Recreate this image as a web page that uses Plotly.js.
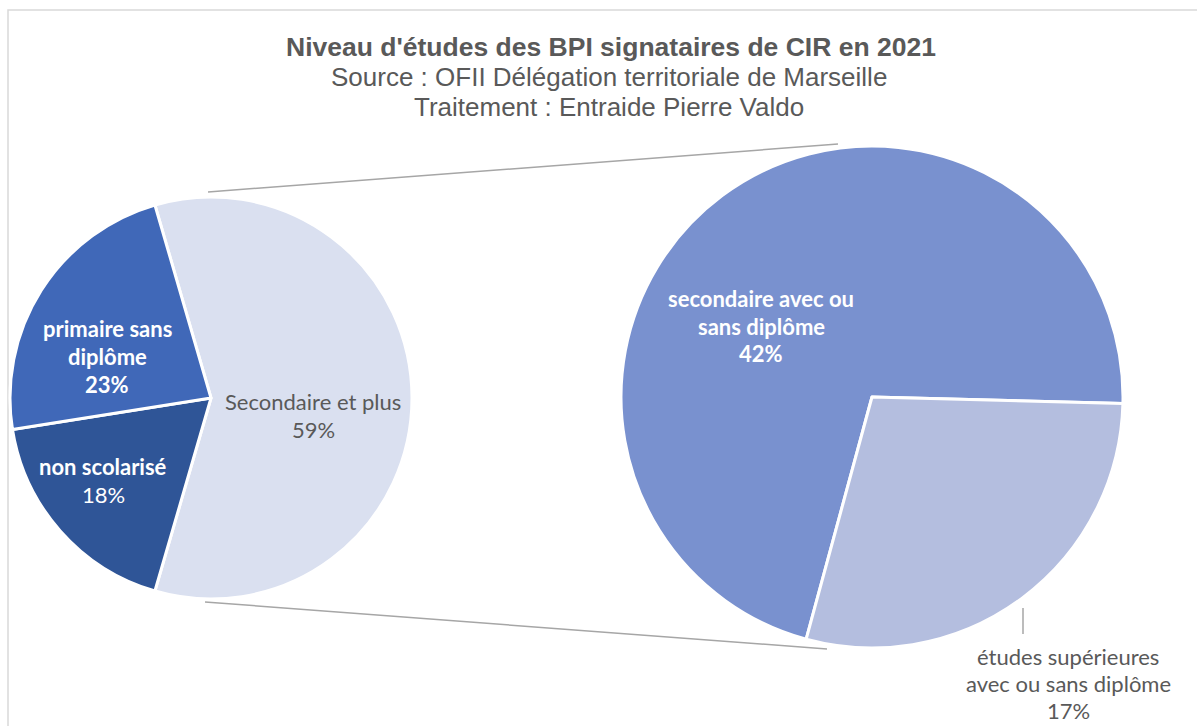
<!DOCTYPE html>
<html><head><meta charset="utf-8">
<script src="https://cdn.plot.ly/plotly-3.0.1.min.js"></script>
<style>html,body{margin:0;padding:0;background:#fff}</style>
</head><body><div id="chart" style="width:1197px;height:726px"></div>
<script>
// ---- data ----
const mainCategories = ["Secondaire et plus", "non scolarisé", "primaire sans diplôme"];
const mainValues = [59, 18, 23];
const subCategories = ["secondaire avec ou sans diplôme", "études supérieures avec ou sans diplôme"];
const subValues = [42, 17];
const mainLabelLines = [["Secondaire et plus"], ["non scolarisé"], ["primaire sans", "diplôme"]];
const subLabelLines = [["secondaire avec ou", "sans diplôme"], ["études supérieures", "avec ou sans diplôme"]];
const titleText = "Niveau d'études des BPI signataires de CIR en 2021";
const subtitleLines = ["Source : OFII Délégation territoriale de Marseille", "Traitement : Entraide Pierre Valdo"];

// ---- styling ----
const W = 1197, H = 726;
const px = x => x / W, py = y => 1 - y / H;
const mainColors = ["#DAE0F0", "#2F5597", "#4068B8"];
const subColors = ["#7991CF", "#B4BEDF"];
const labelFont = "Lato, 'Open Sans', sans-serif";
const grandTotal = mainValues.reduce((a, b) => a + b, 0);
const pct = v => Math.round(v / grandTotal * 100) + "%";

const traces = [
  {
    type: "pie", labels: mainCategories, values: mainValues, sort: false,
    direction: "clockwise", rotation: -16.2,
    marker: {colors: mainColors, line: {color: "#ffffff", width: 3}},
    textinfo: "none", hoverinfo: "label+percent",
    domain: {x: [px(10), px(412)], y: [py(600), py(196)]},
    showlegend: false
  },
  {
    type: "pie", labels: subCategories, values: subValues, sort: false,
    direction: "clockwise", rotation: 195.2,
    marker: {colors: subColors, line: {color: "#ffffff", width: 3}},
    textinfo: "none", hoverinfo: "label+value",
    domain: {x: [px(621), px(1123)], y: [py(648), py(146)]},
    showlegend: false
  }
];

// label specs: [lines, value, centerX, firstLineY, lineGap, color, boldName, boldPct]
const labelSpecs = [
  [mainLabelLines[0], mainValues[0], 313, 401, 28, "#595959", false, false],
  [mainLabelLines[1], mainValues[1], 103, 466, 28, "#ffffff", true, false],
  [mainLabelLines[2], mainValues[2], 107, 328, 28, "#ffffff", true, true],
  [subLabelLines[0], subValues[0], 761, 298, 28, "#ffffff", true, true],
  [subLabelLines[1], subValues[1], 1068, 656, 27, "#595959", false, false]
];
const annotations = [];
labelSpecs.forEach(([lines, v, cx, y0, gap, color, bName, bPct]) => {
  const all = lines.map(l => bName ? "<b>" + l + "</b>" : l);
  all.push(bPct ? "<b>" + pct(v) + "</b>" : pct(v));
  all.forEach((t, i) => {
    annotations.push({
      text: t, x: px(cx), y: py(y0 + i * gap), xref: "paper", yref: "paper",
      xanchor: "center", yanchor: "middle", showarrow: false,
      font: {family: labelFont, size: 22, color: color}
    });
  });
});
subtitleLines.forEach((t, i) => {
  annotations.push({
    text: t, x: px(609), y: py(77 + i * 30), xref: "paper", yref: "paper",
    xanchor: "center", yanchor: "middle", showarrow: false,
    font: {family: "'Liberation Sans', Arial, sans-serif", size: 26, color: "#595959"}
  });
});

const lineStyle = {color: "#A6A6A6", width: 1.5};
const shapes = [
  {type: "rect", xref: "paper", yref: "paper", x0: px(8), y0: py(10), x1: px(1205), y1: py(740),
   line: {color: "#D9D9D9", width: 1.5}, fillcolor: "rgba(0,0,0,0)", layer: "below"},
  {type: "line", xref: "paper", yref: "paper", x0: px(208), y0: py(192), x1: px(838), y1: py(144), line: lineStyle},
  {type: "line", xref: "paper", yref: "paper", x0: px(205), y0: py(602), x1: px(827), y1: py(649), line: lineStyle},
  {type: "line", xref: "paper", yref: "paper", x0: px(1023), y0: py(608), x1: px(1023), y1: py(634), line: lineStyle}
];

const layout = {
  width: W, height: H,
  margin: {l: 0, r: 0, t: 0, b: 0},
  paper_bgcolor: "#ffffff",
  title: {
    text: "<b>" + titleText + "</b>", x: px(611), y: py(47), xanchor: "center", yanchor: "middle",
    xref: "paper", yref: "paper",
    font: {family: "'Liberation Sans', Arial, sans-serif", size: 26.5, color: "#595959"}
  },
  annotations: annotations,
  shapes: shapes
};

Plotly.newPlot("chart", traces, layout, {displayModeBar: false, staticPlot: true});
</script>
</body></html>
